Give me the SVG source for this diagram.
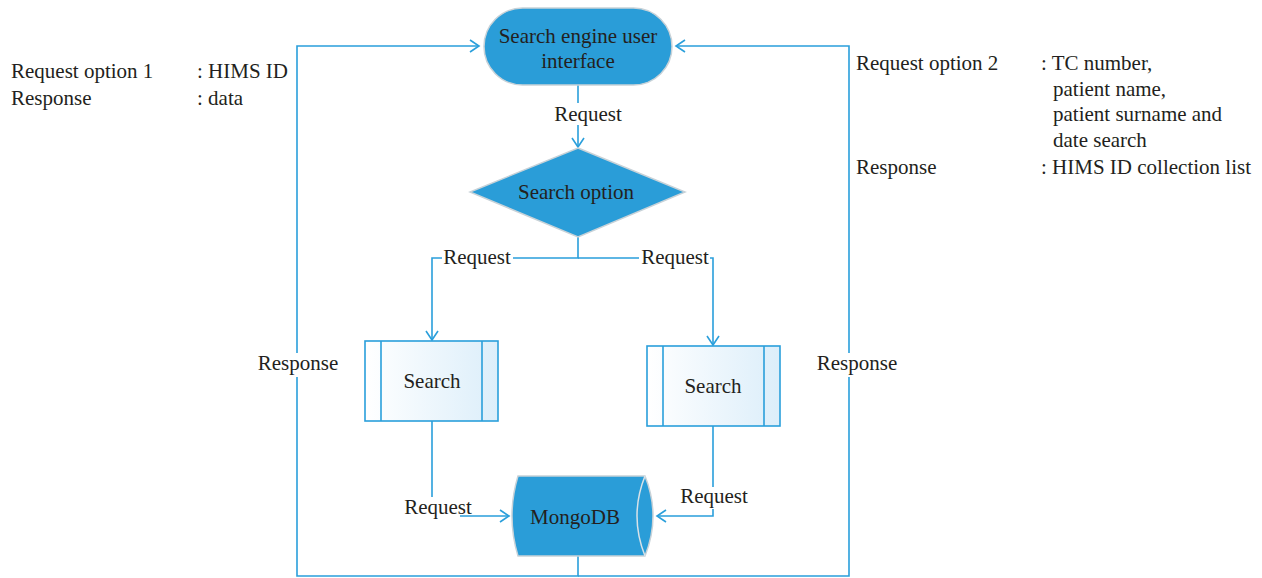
<svg xmlns="http://www.w3.org/2000/svg" width="1262" height="578" viewBox="0 0 1262 578">
<style>
text{font-family:"Liberation Serif","DejaVu Serif",serif;font-size:21px;fill:#231F20}
.c{text-anchor:middle}
.ln{fill:none;stroke:#2A9FDB;stroke-width:1.6}
.bg{fill:#fff}
.node{fill:#2A9DD8;stroke:#C8D2D8;stroke-width:1.5}
.box{fill:url(#g);stroke:#2A9FDB;stroke-width:1.6}
</style>
<defs>
<linearGradient id="g" x1="0" y1="0" x2="1" y2="0">
<stop offset="0" stop-color="#FFFFFF"/>
<stop offset="1" stop-color="#DCEEFA"/>
</linearGradient>
<marker id="a" markerWidth="12" markerHeight="14" refX="10" refY="7" orient="auto" markerUnits="userSpaceOnUse">
<path d="M1,1 L10,7 L1,13" fill="none" stroke="#2A9FDB" stroke-width="1.6"/>
</marker>
</defs>
<g id="connectors">
<path class="ln" d="M578,85 V147" marker-end="url(#a)"/>
<path class="ln" d="M578,237 V258 H432 V340" marker-end="url(#a)"/>
<path class="ln" d="M578,258 H713 V345" marker-end="url(#a)"/>
<path class="ln" d="M432,421 V516 H509" marker-end="url(#a)"/>
<path class="ln" d="M713,426 V516 H657" marker-end="url(#a)"/>
<path class="ln" d="M578,556 V576 H297 V46 H479" marker-end="url(#a)"/>
<path class="ln" d="M578,576 H849 V46 H676" marker-end="url(#a)"/>
<rect class="bg" x="550" y="103" width="76" height="22"/>
<text class="c" x="588" y="121">Request</text>
<rect class="bg" x="442" y="248" width="71" height="20"/>
<text class="c" x="477" y="264">Request</text>
<rect class="bg" x="639" y="248" width="71" height="20"/>
<text class="c" x="675" y="264">Request</text>
<rect class="bg" x="401" y="497" width="59" height="23"/>
<text class="c" x="438" y="514">Request</text>
<rect class="bg" x="678" y="487" width="72" height="22"/>
<text class="c" x="714" y="503">Request</text>
<rect class="bg" x="254" y="353" width="88" height="24"/>
<text class="c" x="298" y="370">Response</text>
<rect class="bg" x="813" y="353" width="88" height="24"/>
<text class="c" x="857" y="370">Response</text>
</g>
<g id="ui">
<rect class="node" x="484" y="8" width="188" height="77" rx="38.5" ry="38.5"/>
<text class="c" x="578" y="43">Search engine user</text>
<text class="c" x="578" y="68">interface</text>
</g>
<g id="option">
<polygon class="node" points="578,148 685,192 578,237 470,192"/>
<text class="c" x="576" y="199">Search option</text>
</g>
<g id="search1">
<rect class="box" x="365" y="341" width="133" height="80"/>
<line class="ln" x1="381" y1="341" x2="381" y2="421"/>
<line class="ln" x1="482" y1="341" x2="482" y2="421"/>
<text class="c" x="432" y="388">Search</text>
</g>
<g id="search2">
<rect class="box" x="647" y="346" width="133" height="80"/>
<line class="ln" x1="663" y1="346" x2="663" y2="426"/>
<line class="ln" x1="764" y1="346" x2="764" y2="426"/>
<text class="c" x="713" y="393">Search</text>
</g>
<g id="mongodb">
<path class="node" d="M518,476 H645 Q661,516 645,556 H518 Q506,516 518,476 Z"/>
<path d="M645,476 Q629,516 645,556" fill="none" stroke="#D8E2E8" stroke-width="1.5"/>
<text class="c" x="575" y="524">MongoDB</text>
</g>
<g id="legend1">
<text x="11" y="78">Request option 1</text>
<text x="197" y="78">: HIMS ID</text>
<text x="11" y="105">Response</text>
<text x="197" y="105">: data</text>
</g>
<g id="legend2">
<text x="856" y="70">Request option 2</text>
<text x="1041" y="70">: TC number,</text>
<text x="1053" y="96">patient name,</text>
<text x="1053" y="121">patient surname and</text>
<text x="1053" y="147">date search</text>
<text x="856" y="174">Response</text>
<text x="1041" y="174">: HIMS ID collection list</text>
</g>
</svg>
